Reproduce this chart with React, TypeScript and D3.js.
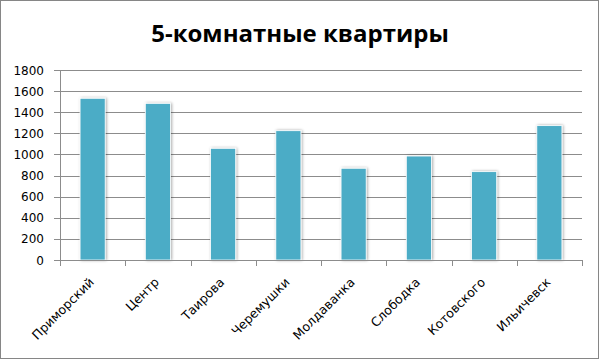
import React from "react";
import * as d3 from "d3";

const categories = ["Приморский", "Центр", "Таирова", "Черемушки", "Молдаванка", "Слободка", "Котовского", "Ильичевск"];
const values = [1532, 1484, 1058, 1225, 869, 985, 837, 1273];
const yTicks = [0, 200, 400, 600, 800, 1000, 1200, 1400, 1600, 1800];
const title = "5-комнатные квартиры";

export default function App() {
  const W = 600, H = 360;
  const left = 60, right = 582, top = 70, bottom = 260;
  const x = d3.scaleBand<string>().domain(categories).range([left, right]).paddingInner(0.615).paddingOuter(0.3075);
  const xb = d3.scaleBand<string>().domain(categories).range([left, right]);
  const y = d3.scaleLinear().domain([0, 1800]).range([bottom, top]);
  const font = "'DejaVu Sans', Verdana, sans-serif";
  return (
    <svg width={W} height={H} style={{ position: "absolute", left: 0, top: 0 }}>
      <defs>
        <filter id="sh" x="-30%" y="-10%" width="160%" height="120%">
          <feGaussianBlur in="SourceAlpha" stdDeviation="1.5" />
          <feOffset dx="1" dy="0" result="b" />
          <feComponentTransfer><feFuncA type="linear" slope="0.35" /></feComponentTransfer>
          <feMerge><feMergeNode /><feMergeNode in="SourceGraphic" /></feMerge>
        </filter>
      </defs>
      <rect x={0.5} y={0.5} width={W - 2} height={H - 2} fill="#fff" stroke="#868686" strokeWidth={1} />
      <text x={300} y={42} textAnchor="middle" fontFamily="'Open Sans', sans-serif" fontWeight="bold" fontSize={24} fill="#000">{title}</text>
      {yTicks.map((t) => (
        <g key={t}>
          <line x1={left - 6} x2={right} y1={Math.round(y(t)) + 0.5} y2={Math.round(y(t)) + 0.5} stroke="#8c8c8c" strokeWidth={1} />
          <text x={left - 16} y={y(t) + 4.5} textAnchor="end" fontFamily={font} fontSize={12} fill="#000">{t}</text>
        </g>
      ))}
      <line x1={left + 0.5} x2={left + 0.5} y1={top} y2={bottom} stroke="#8c8c8c" />
      {categories.map((c, i) => (
        <rect key={c} x={x(c)} y={y(values[i])} width={x.bandwidth()} height={bottom - y(values[i])} fill="#4BACC6" stroke="#ffffff" strokeWidth={0.8} filter="url(#sh)" />
      ))}
      <line x1={left} x2={right} y1={bottom + 0.5} y2={bottom + 0.5} stroke="#8c8c8c" />
      {categories.concat(["_end"]).map((c, i) => {
        const xx = Math.round(left + i * xb.step()) + 0.5;
        return <line key={c} x1={xx} x2={xx} y1={bottom} y2={bottom + 6} stroke="#8c8c8c" />;
      })}
      {categories.map((c) => {
        const cx = (xb(c) as number) + xb.bandwidth() / 2;
        return (
          <text key={c} transform={`translate(${cx + 2},${bottom + 23}) rotate(-45)`} textAnchor="end" fontFamily={font} fontSize={12.5} fill="#000">{c}</text>
        );
      })}
    </svg>
  );
}
